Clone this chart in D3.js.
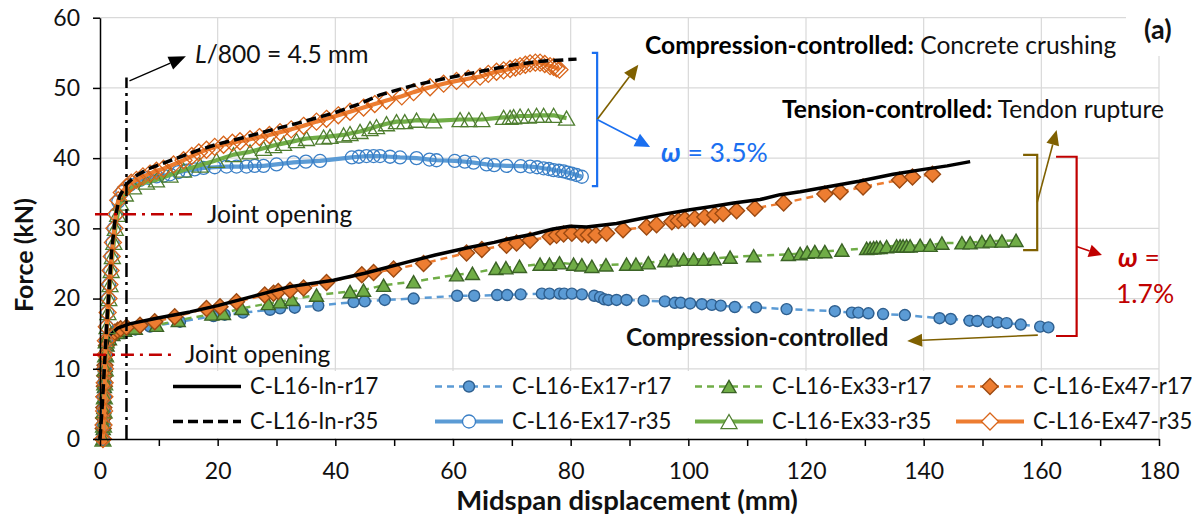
<!DOCTYPE html>
<html>
<head>
<meta charset="utf-8">
<script src="https://cdn.jsdelivr.net/npm/d3@7"></script>
<style>
  html, body { margin: 0; padding: 0; background: #fff; }
  svg { display: block; }
  text { font-family: Lato, "Noto Sans", sans-serif; fill: #111; }
</style>
</head>
<body>
<svg id="chart" width="1192" height="517"></svg>
<script>
// ---------- axis ticks ----------
const xTicks = [0, 20, 40, 60, 80, 100, 120, 140, 160, 180];
const xMinorTicks = [10, 30, 50, 70, 90, 110, 130, 150, 170];
const yTicks = [0, 10, 20, 30, 40, 50, 60];

// ---------- series (midspan displacement mm, force kN) ----------
const inR17 = [[0,0],[0.4,4],[0.7,9],[1.0,13],[1.6,14.8],[3,15.8],[5,16.4],[9.6,17.2],[15.3,18.1],[20,19.0],[25,20.1],[32.3,21.7],[39.7,22.6],[45,23.6],[52.7,25.3],[57,26.2],[62.3,27.2],[67,28.0],[70,28.6],[73.7,29.2],[77,29.9],[79.9,30.3],[82.7,30.2],[87.8,30.7],[92,31.4],[96.3,32.1],[100,32.6],[104,33.1],[107.7,33.6],[112.2,34.1],[115.6,34.8],[119,35.2],[123.5,35.9],[129,36.7],[134.8,37.7],[140,38.4],[144,38.9],[147.9,39.5]];

const inR35 = [[0,0],[0.4,5],[0.8,11],[1.2,17],[1.6,22],[2.0,27],[2.6,31.5],[3.3,34.5],[4.5,36.3],[6,37.4],[8,38.4],[10.8,39.3],[14,40.3],[17,41.2],[20,42.0],[23.8,42.8],[30,44.2],[34.6,45.2],[40,46.5],[44,47.7],[47.6,49.0],[53,50.3],[58.9,51.4],[65,52.4],[70.3,53.3],[75,53.8],[81,54.1]];

const ex17R17 = [[0.5,0],[0.55,1.5],[0.6,3],[0.65,4.5],[0.7,6],[0.75,7.5],[0.8,9],[0.9,10.5],[1.0,12],[1.2,13.3],[1.6,14.2],[2.2,14.7],[3.0,15.0],[4.2,15.3],[6,15.6],[8.5,16.0],[13.6,16.7],[19.3,17.5],[21.2,17.7],[24.3,18.0],[28.9,18.4],[30.6,18.6],[33.1,18.7],[37.1,19.0],[43.1,19.5],[45,19.6],[48.4,19.8],[53.3,20.0],[60.7,20.4],[63.6,20.4],[67.5,20.5],[69.2,20.5],[71.5,20.6],[75.1,20.7],[76.4,20.7],[78.1,20.7],[78.9,20.7],[80.2,20.7],[81.9,20.6],[84,20.4],[85,20.2],[85.7,19.9],[86.4,19.8],[87.8,19.8],[89.5,19.8],[92.4,19.7],[96,19.6],[97.7,19.4],[98.7,19.4],[100.3,19.3],[102.3,19.2],[104,19.1],[105.5,19.0],[107.9,18.8],[111.5,18.75],[116.7,18.5],[124.9,18.2],[127.8,18.0],[128.9,18.0],[130.6,17.9],[133.1,17.8],[136.8,17.65],[142.7,17.2],[144.6,17.1],[147.8,16.85],[149.1,16.8],[151,16.7],[152.6,16.6],[154.1,16.5],[156.5,16.3],[159.8,16.0],[161.2,15.9]];

const ex17R35 = [[0.5,0],[0.6,2],[0.65,4],[0.7,6],[0.75,8],[0.8,10],[0.9,12],[1.0,14],[1.1,16],[1.25,18],[1.4,20],[1.55,22],[1.75,24],[1.95,26],[2.15,28],[2.4,30],[2.7,32],[3.1,33.8],[3.8,35.2],[5.1,36.2],[6.8,36.9],[8.2,37.2],[9.6,37.4],[10.8,37.5],[11.9,37.7],[13.3,38.0],[14.7,38.2],[16.1,38.4],[17.6,38.6],[19.5,38.7],[21.5,38.8],[23.2,38.8],[24.9,38.8],[26.3,38.9],[27.8,38.9],[30,39.1],[32.9,39.4],[35,39.5],[37.4,39.6],[42.8,40.1],[44,40.2],[45.3,40.3],[46.5,40.3],[47.6,40.3],[49.3,40.2],[51,40.1],[53.8,40.0],[56,39.8],[57.2,39.7],[60.3,39.6],[62,39.5],[63.5,39.35],[65.7,39.1],[67,39.0],[69.1,38.9],[71.5,38.85],[73.1,38.8],[74.3,38.7],[75.4,38.55],[76.3,38.45],[77.1,38.3],[78,38.2],[78.8,38.1],[79.5,37.95],[80.2,37.8],[81,37.6],[81.9,37.35]];

const ex33R17 = [[0.5,0],[0.55,1.5],[0.6,3],[0.65,4.5],[0.7,6],[0.75,7.5],[0.8,9],[0.9,10.5],[1.0,12],[1.2,13.4],[1.6,14.3],[2.2,14.9],[3.0,15.2],[4.2,15.5],[6,15.8],[9.6,16.2],[13.3,16.9],[19.0,17.8],[21.0,17.9],[24.1,18.6],[28.6,19.3],[30.6,19.55],[32.6,19.9],[36.8,20.5],[42.5,21.0],[44.8,21.2],[48.2,21.9],[53.3,22.4],[60.6,23.4],[63.3,23.6],[67.3,24.3],[69.0,24.4],[71.3,24.6],[74.8,24.9],[76.4,24.9],[78.1,25.1],[80.5,24.9],[81.9,24.8],[83.6,24.6],[86.0,24.8],[89.5,24.9],[91.1,24.9],[93.2,25.1],[96.0,25.4],[97.4,25.5],[99.2,25.6],[100.9,25.6],[102.6,25.6],[104.4,25.7],[107.1,25.9],[111.1,26.1],[117.0,26.3],[119.0,26.4],[120.2,26.6],[121.5,26.7],[123.2,26.7],[126.1,26.9],[130.3,27.15],[130.9,27.2],[131.5,27.25],[132.0,27.3],[132.6,27.3],[133.7,27.4],[135.4,27.5],[136.0,27.5],[136.5,27.5],[137.1,27.5],[137.7,27.5],[139.4,27.6],[141.1,27.6],[143.1,27.9],[146.5,27.95],[147.9,27.95],[149.9,28.1],[151.3,28.2],[153.3,28.2],[155.7,28.3]];

const ex33R35 = [[0.5,0],[0.6,2],[0.7,4],[0.75,6],[0.8,8],[0.9,10],[0.95,12],[1.05,14],[1.2,16],[1.35,18],[1.5,20],[1.7,22],[1.9,24],[2.1,26],[2.35,28],[2.6,30],[3.0,32],[3.5,33.6],[4.3,34.9],[5.7,35.9],[7.9,36.6],[9.6,36.9],[11.9,37.6],[14.2,38.3],[17.0,39.0],[19.8,39.7],[22.7,40.5],[25.5,40.9],[27.8,41.4],[29.5,41.8],[31.2,42.1],[33.4,42.5],[35.1,42.8],[38.0,43.0],[39.1,43.1],[41.4,43.3],[42.5,43.5],[44.2,43.8],[45.9,44.2],[47,44.5],[48.7,44.9],[50.4,45.2],[51.8,45.2],[53.8,45.4],[56.7,45.3],[61.2,45.5],[62.7,45.5],[64.9,45.5],[68.6,45.8],[69.7,45.8],[70.3,45.9],[71.4,46.0],[72.8,46.0],[74.2,46.1],[75.4,46.1],[77.1,46.1],[79.3,45.7]];

const ex47R17 = [[0.5,0],[0.55,1.5],[0.6,3],[0.65,4.5],[0.7,6],[0.75,7.5],[0.8,9],[0.85,10.5],[0.9,12],[1.1,13.3],[1.5,14.2],[2.0,14.8],[2.5,15.2],[3.0,15.5],[3.5,15.7],[4.5,15.9],[6.8,16.2],[9.3,16.7],[12.7,17.4],[18.1,18.6],[20.4,18.85],[23.2,19.55],[28.0,20.5],[29.5,20.75],[30.3,21.0],[32.3,21.2],[34.6,21.5],[38.5,22.3],[44.5,23.4],[46.5,23.7],[49.9,24.2],[55.0,25.0],[62.3,26.5],[64.9,27.0],[69.1,27.6],[70.8,27.9],[73.1,28.3],[76.5,28.8],[77.6,29.0],[78.8,29.2],[80.2,29.3],[81.9,29.2],[83.0,29.05],[84.3,29.05],[86.1,29.3],[88.9,29.8],[92.9,30.2],[94.6,30.5],[97.2,30.95],[98.3,31.1],[99.4,31.3],[101.1,31.4],[102.8,31.6],[104.5,31.9],[105.9,32.1],[108.2,32.5],[111.3,32.85],[116.2,33.6],[123.2,34.9],[125.8,35.2],[129.7,35.9],[135.9,36.9],[138.1,37.3],[141.5,37.7]];

const ex47R35 = [[0.5,0],[0.6,2],[0.7,4],[0.75,6],[0.8,8],[0.85,10],[0.9,12],[1.0,14],[1.15,16],[1.3,18],[1.45,20],[1.6,22],[1.8,24],[2.0,26],[2.2,28],[2.45,30],[2.7,32],[3.1,34.0],[3.7,35.1],[4.5,35.9],[5.3,36.5],[6.2,36.9],[7.3,37.4],[8.5,37.8],[9.6,38.2],[10.8,38.5],[12.5,39.1],[14.2,39.7],[15.6,40.3],[16.8,40.8],[18.1,41.2],[19.5,41.6],[21,41.9],[22.5,42.2],[23.8,42.4],[25.5,42.7],[27.1,43.0],[28.8,43.3],[30.6,43.7],[32.5,44.1],[34.6,44.6],[36.8,45.2],[38.5,45.6],[40.5,46.1],[42.5,46.6],[44.8,47.2],[46.7,47.7],[48.7,48.2],[51.3,48.8],[53.3,49.4],[56.1,50.1],[58.4,50.6],[60.6,51.0],[62.6,51.3],[64.6,51.6],[66,52.0],[67.4,52.3],[68.6,52.5],[69.7,52.7],[70.6,52.9],[71.4,53.1],[72.3,53.3],[73.1,53.5],[74,53.6],[74.8,53.6],[75.6,53.4],[76.5,53.1],[77.1,53.0],[77.6,52.8],[78.1,52.6]];

// ---------- annotation values ----------
const deflectionLimit = 4.5;          // L/800 in mm
const jointOpeningForces = [32, 12];  // kN, r35 group then r17 group

// ---------- layout ----------
const svg = d3.select("#chart");
const x = d3.scaleLinear().domain([0, 180]).range([100, 1159]);
const y = d3.scaleLinear().domain([0, 60]).range([439, 17.7]);

const BLUE = "#5b9bd5", GREEN = "#70ad47", ORANGE = "#ed7d31";
const ANN_SIZE = 24.6;

const series = [
  { name: "C-L16-In-r17",   data: inR17,   color: "#000", width: 3.5, dash: null,   marker: null },
  { name: "C-L16-Ex17-r17", data: ex17R17, color: BLUE,   width: 2.5, dash: "7,5",  marker: "circle",   size: 11, fill: BLUE,   stroke: "#2e5f8f", sw: 1.4 },
  { name: "C-L16-Ex33-r17", data: ex33R17, color: GREEN,  width: 2.5, dash: "7,5",  marker: "triangle", size: 14, fill: GREEN,  stroke: "#3b6326", sw: 1.4 },
  { name: "C-L16-Ex47-r17", data: ex47R17, color: ORANGE, width: 2.5, dash: "7,5",  marker: "diamond",  size: 16, fill: ORANGE, stroke: "#9c4a12", sw: 1.4 },
  { name: "C-L16-In-r35",   data: inR35,   color: "#000", width: 3.5, dash: "10,5", marker: null },
  { name: "C-L16-Ex17-r35", data: ex17R35, color: BLUE,   width: 4.2, dash: null,   marker: "circle",   size: 13, fill: "none", stroke: "#3a7fc6", sw: 1.3 },
  { name: "C-L16-Ex33-r35", data: ex33R35, color: GREEN,  width: 4.2, dash: null,   marker: "triangle", size: 16, fill: "none", stroke: "#4f7e30", sw: 1.3 },
  { name: "C-L16-Ex47-r35", data: ex47R35, color: ORANGE, width: 4.2, dash: null,   marker: "diamond",  size: 17, fill: "none", stroke: "#d9651a", sw: 1.3 }
];

function markerPath(kind, s) {
  const h = s / 2;
  if (kind === "circle") return d3.symbol(d3.symbolCircle, Math.PI * h * h)();
  if (kind === "triangle") { const th = s * 0.88 / 2; return `M0,${-th}L${h},${th}L${-h},${th}Z`; }
  if (kind === "diamond") return `M0,${-h}L${h},0L0,${h}L${-h},0Z`;
  return null;
}

// ---------- gridlines ----------
const grid = svg.append("g").attr("stroke", "#d9d9d9").attr("stroke-width", 1.2);
grid.selectAll("line.v").data(xTicks.filter(d => d > 0)).join("line")
  .attr("x1", d => x(d)).attr("x2", d => x(d)).attr("y1", y(60)).attr("y2", y(0));
grid.selectAll("line.h").data(yTicks.filter(d => d > 0)).join("line")
  .attr("x1", x(0)).attr("x2", x(180)).attr("y1", d => y(d)).attr("y2", d => y(d));

// ---------- series ----------
const line = d3.line().x(d => x(d[0])).y(d => y(d[1]));
const plot = svg.append("g");
function drawSeries(s) {
  const g = plot.append("g");
  g.append("path").attr("d", line(s.data)).attr("fill", "none")
    .attr("stroke", s.color).attr("stroke-width", s.width)
    .attr("stroke-dasharray", s.dash).attr("stroke-linejoin", "round");
  if (s.marker) {
    const p = markerPath(s.marker, s.size);
    g.selectAll("path.m").data(s.data).join("path").attr("class", "m")
      .attr("d", p).attr("transform", d => `translate(${x(d[0])},${y(d[1])})`)
      .attr("fill", s.fill).attr("stroke", s.stroke).attr("stroke-width", s.sw);
  }
}
[1, 2, 3, 0, 5, 6, 7, 4].forEach(i => drawSeries(series[i]));

// ---------- axes ----------
svg.append("g").attr("class", "axis").attr("transform", `translate(${x(0)},0)`)
  .call(d3.axisLeft(y).tickValues(yTicks).tickSize(7).tickSizeOuter(0).tickPadding(13));
const xAxis = svg.append("g").attr("class", "axis").attr("transform", `translate(0,${y(0)})`)
  .call(d3.axisBottom(x).tickValues(xTicks).tickSize(7).tickSizeOuter(0));
xAxis.selectAll(".tick text").attr("y", 39.5).attr("dy", null);
svg.append("g").attr("transform", `translate(0,${y(0)})`)
  .call(d3.axisBottom(x).tickValues(xMinorTicks).tickSize(7).tickSizeOuter(0).tickFormat(""))
  .select(".domain").remove();
svg.selectAll(".domain, .tick line").attr("stroke", "#000").attr("stroke-width", 1.5);
svg.selectAll(".tick text").attr("font-size", 23).attr("fill", "#111")
  .style("font-family", "Lato, 'Noto Sans', sans-serif");

svg.append("text").attr("x", 627).attr("y", 510).attr("text-anchor", "middle")
  .attr("font-size", 27.5).attr("font-weight", "bold").attr("fill", "#000")
  .text("Midspan displacement (mm)");
svg.append("text").attr("transform", "translate(33,255) rotate(-90)").attr("text-anchor", "middle")
  .attr("font-size", 25).attr("font-weight", "bold").attr("fill", "#000")
  .text("Force (kN)");

// ---------- legend ----------
const legendCols = [173, 435, 695, 956];
const legendRows = [386.5, 421.5];
const legendOrder = [0, 1, 2, 3, 4, 5, 6, 7];
svg.append("rect").attr("x", 160).attr("y", 371).attr("width", 998).attr("height", 67).attr("fill", "#fff");
const lg = svg.append("g");
legendOrder.forEach((si, k) => {
  const s = series[si];
  const cx = legendCols[k % 4], cy = legendRows[Math.floor(k / 4)];
  const g = lg.append("g").attr("transform", `translate(${cx},${cy})`);
  g.append("line").attr("x1", 0).attr("x2", 68).attr("y1", 0).attr("y2", 0)
    .attr("stroke", s.color).attr("stroke-width", s.width).attr("stroke-dasharray", s.dash);
  if (s.marker) {
    g.append("path").attr("d", markerPath(s.marker, s.size)).attr("transform", "translate(34,0)")
      .attr("fill", s.fill === "none" ? "#fff" : s.fill).attr("stroke", s.stroke).attr("stroke-width", s.sw);
  }
  g.append("text").attr("x", 77).attr("y", 0).attr("dy", "0.35em").attr("font-size", 22.1).text(s.name);
});

// ---------- annotations ----------
const ann = svg.append("g");
function arrow(x1, y1, x2, y2, color, w, len, half) {
  const a = Math.atan2(y2 - y1, x2 - x1);
  const bx = x2 - len * Math.cos(a), by = y2 - len * Math.sin(a);
  ann.append("line").attr("x1", x1).attr("y1", y1).attr("x2", bx).attr("y2", by)
    .attr("stroke", color).attr("stroke-width", w);
  ann.append("path")
    .attr("d", `M${x2},${y2}L${bx + half * Math.sin(a)},${by - half * Math.cos(a)}L${bx - half * Math.sin(a)},${by + half * Math.cos(a)}Z`)
    .attr("fill", color);
}

// deflection limit line
ann.append("line").attr("x1", x(deflectionLimit)).attr("x2", x(deflectionLimit))
  .attr("y1", y(0)).attr("y2", y(51.5))
  .attr("stroke", "#000").attr("stroke-width", 2.5).attr("stroke-dasharray", "14,5,3,5");
arrow(x(deflectionLimit) + 3, y(51.0), x(14.6), y(54.5), "#000", 1.3, 17, 7);
const lt = ann.append("text").attr("x", 195).attr("y", 63).attr("font-size", ANN_SIZE);
lt.append("tspan").attr("font-style", "italic").text("L");
lt.append("tspan").text("/800 = 4.5 mm");

// joint opening lines
const jointLineEnds = [[-0.85, 16.5], [-1.2, 12.5]];
const jointLabelX = [207, 185];
jointOpeningForces.forEach((f, i) => {
  ann.append("line").attr("x1", x(jointLineEnds[i][0])).attr("x2", x(jointLineEnds[i][1]))
    .attr("y1", y(f)).attr("y2", y(f))
    .attr("stroke", "#c00000").attr("stroke-width", 2.5).attr("stroke-dasharray", "13,6,3,6");
  ann.append("text").attr("x", jointLabelX[i]).attr("y", y(f)).attr("dy", "0.35em")
    .attr("font-size", ANN_SIZE).text("Joint opening");
});

// bracket helper: vertical bar at xv with ticks reaching left to xl
function bracket(xv, xl, yTop, yBot, color, w) {
  ann.append("path").attr("d", `M${x(xl)},${y(yTop)}H${x(xv)}V${y(yBot)}H${x(xl)}`)
    .attr("fill", "none").attr("stroke", color).attr("stroke-width", w);
}
const BRACKET_BLUE = "#1a6ff0", BROWN = "#7f6000", RED = "#c00000";

// r35 group bracket
bracket(84.5, 83.6, 55.0, 36.0, BRACKET_BLUE, 2.2);
arrow(x(84.5), y(45.5), x(91.5), y(53.3), BROWN, 1.6, 15, 6.5);
arrow(x(84.5), y(45.5), x(93.5), y(41.6), BRACKET_BLUE, 1.6, 15, 7);

// r17 tension-controlled bracket
bracket(159.3, 156.9, 40.45, 26.9, BROWN, 2.2);
arrow(x(159.3), y(33.7), x(162.6), y(44.0), BROWN, 1.6, 15, 6.5);

// r17 group bracket
bracket(166.0, 162.5, 40.2, 14.67, RED, 2.2);
arrow(x(166.0), y(27.4), x(170.3), y(26.2), RED, 1.6, 13, 6.5);

// compression-controlled pointer (r17)
arrow(x(159.4), y(14.8), x(137.2), y(13.96), BROWN, 1.6, 15, 6.5);

// annotation texts
const t1 = ann.append("text").attr("x", 645).attr("y", 54).attr("font-size", ANN_SIZE);
t1.append("tspan").attr("font-weight", "bold").attr("fill", "#000").text("Compression-controlled:");
t1.append("tspan").text(" Concrete crushing");

const t2 = ann.append("text").attr("x", 782).attr("y", 118).attr("font-size", ANN_SIZE);
t2.append("tspan").attr("font-weight", "bold").attr("fill", "#000").text("Tension-controlled:");
t2.append("tspan").text(" Tendon rupture");

ann.append("text").attr("x", 626).attr("y", 346).attr("font-size", ANN_SIZE)
  .attr("font-weight", "bold").attr("fill", "#000").text("Compression-controlled");

const w1 = ann.append("text").attr("x", 661).attr("y", 162).attr("font-size", 26.5).style("fill", BRACKET_BLUE);
w1.append("tspan").attr("font-weight", "bold").attr("font-style", "italic").text("ω");
w1.append("tspan").text(" = 3.5%");

const w2 = ann.append("text").attr("x", 1118).attr("y", 267).attr("font-size", 26.5).style("fill", RED);
w2.append("tspan").attr("font-weight", "bold").attr("font-style", "italic").text("ω");
w2.append("tspan").text(" =");
ann.append("text").attr("x", 1116).attr("y", 303).attr("font-size", 26.5).style("fill", RED).text("1.7%");

// panel label
svg.append("rect").attr("x", 1126).attr("y", 0).attr("width", 66).attr("height", 56).attr("fill", "#fff");
svg.append("text").attr("x", 1144).attr("y", 39).attr("font-size", 27).attr("font-weight", "bold")
  .attr("fill", "#000").text("(a)");
</script>
</body>
</html>
